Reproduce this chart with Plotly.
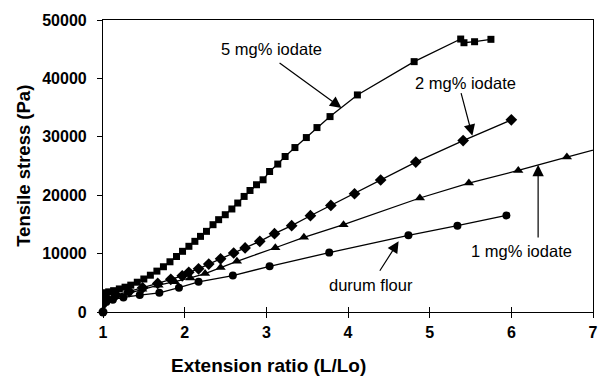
import plotly.graph_objects as go

# 5 mg% iodate (squares)
x5 = [1.00, 1.00, 1.01, 1.02, 1.07, 1.13, 1.20, 1.27, 1.34, 1.42, 1.50, 1.58, 1.66, 1.74, 1.82, 1.90,
      1.974, 2.052, 2.125, 2.194, 2.267, 2.347, 2.416, 2.497, 2.578, 2.650, 2.728, 2.80, 2.88, 2.96,
      3.04, 3.14, 3.23, 3.35, 3.49, 3.62, 3.78, 4.115, 4.81, 5.38, 5.42, 5.55, 5.75]
y5 = [1500, 2300, 2900, 3300, 3450, 3650, 3950, 4250, 4600, 5100, 5650, 6300, 7000, 7750, 8600, 9500,
      10390, 11250, 12100, 12950, 13810, 14950, 15810, 16660, 17640, 18660, 19790, 20810, 21790, 22640,
      24060, 25330, 26630, 28160, 29870, 31580, 33460, 37170, 42870, 46740, 46110, 46280, 46690]

# 2 mg% iodate (diamonds)
x2 = [1.00, 1.05, 1.16, 1.32, 1.485, 1.67, 1.83, 1.97, 2.05, 2.17, 2.295, 2.44, 2.60, 2.74, 2.92,
      3.10, 3.31, 3.54, 3.79, 4.08, 4.40, 4.83, 5.41, 6.00]
y2 = [1800, 2300, 2900, 3500, 4140, 4900, 5600, 6200, 6800, 7400, 8200, 9100, 10100, 10970, 12100,
      13420, 14780, 16490, 18250, 20250, 22600, 25670, 29360, 32900]

# 1 mg% iodate (triangles)
x1 = [1.00, 1.05, 1.15, 1.30, 1.48, 1.68, 1.88, 2.07, 2.25, 2.44, 2.64, 3.11, 3.46, 3.945, 4.88,
      5.48, 6.085, 6.68, 7.28]
y1 = [1600, 2100, 2600, 3200, 3900, 4600, 5200, 5840, 6580, 7600, 8680, 11000, 12790, 14950, 19520,
      22080, 24240, 26520, 28750]

# durum flour (circles)
xd = [1.00, 1.04, 1.12, 1.25, 1.45, 1.69, 1.93, 2.17, 2.59, 3.04, 3.77, 4.74, 5.34, 5.94]
yd = [1300, 1700, 2100, 2500, 2900, 3280, 4170, 5160, 6240, 7830, 10170, 13130, 14780, 16540]

# origin point
x0 = [1.0]
y0 = [0]

x_ticks = [1, 2, 3, 4, 5, 6, 7]
y_ticks = [0, 10000, 20000, 30000, 40000, 50000]

FONT = "Liberation Sans, Arial, sans-serif"
LW = 1.3

fig = go.Figure()
fig.add_trace(go.Scatter(x=x5, y=y5, mode="lines+markers",
                         line=dict(color="black", width=LW),
                         marker=dict(symbol="square", size=7, color="black")))
fig.add_trace(go.Scatter(x=x2, y=y2, mode="lines+markers",
                         line=dict(color="black", width=LW),
                         marker=dict(symbol="diamond", size=9, color="black")))
fig.add_trace(go.Scatter(x=x1, y=y1, mode="lines+markers",
                         line=dict(color="black", width=LW),
                         marker=dict(symbol="triangle-up", size=9, color="black")))
fig.add_trace(go.Scatter(x=xd, y=yd, mode="lines+markers",
                         line=dict(color="black", width=LW),
                         marker=dict(symbol="circle", size=8, color="black")))
fig.add_trace(go.Scatter(x=x0, y=y0, mode="markers", cliponaxis=False,
                         marker=dict(symbol="circle", size=9, color="black")))
# invisible trace on overlay axis to carry inside ticks
fig.add_trace(go.Scatter(x=[1, 7], y=[0, 0], xaxis="x2", mode="markers",
                         marker=dict(opacity=0), hoverinfo="skip"))

tickfont = dict(family=FONT, size=16, color="black", weight="bold")

fig.update_layout(
    width=607, height=379,
    margin=dict(l=103, r=9, t=20, b=67),
    paper_bgcolor="white", plot_bgcolor="white",
    showlegend=False,
    xaxis=dict(range=[1, 7], tickvals=x_ticks, ticktext=[str(v) for v in x_ticks],
               showgrid=False, zeroline=False,
               showline=True, linecolor="black", linewidth=1.2, mirror=True,
               ticks="outside", ticklen=5, tickcolor="black", tickwidth=1,
               tickfont=tickfont, ticklabelstandoff=1),
    xaxis2=dict(range=[1, 7], overlaying="x", anchor="y", side="bottom",
                tickvals=x_ticks, showticklabels=False, showgrid=False, zeroline=False,
                showline=False, ticks="inside", ticklen=5, tickcolor="black", tickwidth=1),
    yaxis=dict(range=[0, 50000], tickvals=y_ticks, ticktext=[str(v) for v in y_ticks],
               showgrid=False, zeroline=False,
               showline=True, linecolor="black", linewidth=1.2, mirror=True,
               ticks="outside", ticklen=5, tickcolor="black", tickwidth=1,
               tickfont=tickfont, ticklabelstandoff=7),
)

annfont = dict(family=FONT, size=16.5, color="black")
labels = [
    ("5 mg% iodate", 3.06, 45030, 3.92, 34950, 3.144, 42810),
    ("2 mg% iodate", 5.44, 39220, 5.523, 30160, 5.38, 37730),
    ("1 mg% iodate", 6.13, 10510, 6.328, 25210, 6.328, 12510),
    ("durum flour", 4.285, 4700, 4.62, 12100, 4.378, 6800),
]
for text, tx, ty, hx, hy, sx, sy in labels:
    fig.add_annotation(x=tx, y=ty, xref="x", yref="y", text=text, showarrow=False,
                       xanchor="center", yanchor="middle", font=annfont)
    fig.add_annotation(x=hx, y=hy, xref="x", yref="y", ax=sx, ay=sy, axref="x", ayref="y",
                       text="", showarrow=True, arrowhead=2, arrowsize=1.9, arrowwidth=1.2,
                       arrowcolor="black")

pl, pr, pt, pb = 103, 607 - 9, 20, 379 - 67
fig.add_annotation(x=(270 - pl) / (pr - pl), y=(pb - 378) / (pb - pt), xref="paper", yref="paper",
                   text="Extension ratio (L/Lo)", xanchor="center", yanchor="bottom",
                   showarrow=False, font=dict(family=FONT, size=19, color="black", weight="bold"))
fig.add_annotation(x=(22 - pl) / (pr - pl), y=(pb - 166) / (pb - pt), xref="paper", yref="paper",
                   text="Tensile stress (Pa)", textangle=-90, xanchor="center", yanchor="middle",
                   showarrow=False,
                   font=dict(family=FONT, size=18.5, color="black", weight="bold"))

fig.write_html("out.html")
